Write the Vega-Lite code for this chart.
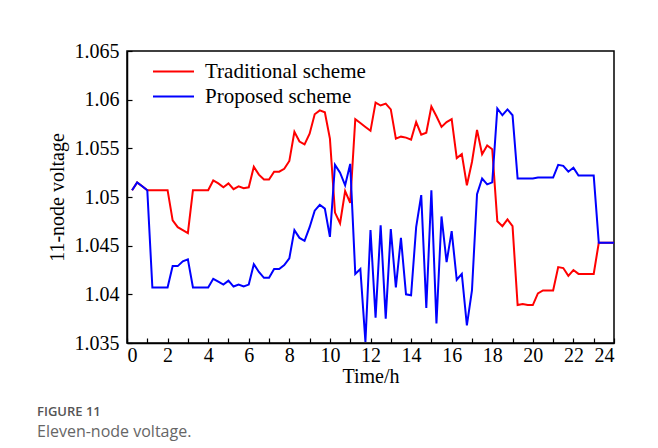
{
  "$schema": "https://vega.github.io/schema/vega-lite/v6.json",
  "autosize": {"type": "none"},
  "width": 487,
  "height": 292,
  "padding": {"left": 127, "top": 51, "right": 44, "bottom": 105},
  "background": "white",
  "title": {
    "text": "FIGURE 11",
    "subtitle": "Eleven-node voltage.",
    "orient": "bottom",
    "anchor": "start",
    "frame": "group",
    "dx": -90,
    "offset": 20,
    "font": "Open Sans",
    "fontSize": 13,
    "fontWeight": 600,
    "color": "#555555",
    "subtitleFont": "Open Sans",
    "subtitleFontSize": 16,
    "subtitleFontWeight": 400,
    "subtitleColor": "#666666",
    "subtitlePadding": 5
  },
  "data": {
    "values": [
      {"t": 0.25, "Traditional scheme": 1.0507, "Proposed scheme": 1.0507},
      {"t": 0.5, "Traditional scheme": 1.0515, "Proposed scheme": 1.0515},
      {"t": 0.75, "Traditional scheme": 1.0511, "Proposed scheme": 1.0511},
      {"t": 1.0, "Traditional scheme": 1.0507, "Proposed scheme": 1.0507},
      {"t": 1.25, "Traditional scheme": 1.0507, "Proposed scheme": 1.0407},
      {"t": 1.5, "Traditional scheme": 1.0507, "Proposed scheme": 1.0407},
      {"t": 1.75, "Traditional scheme": 1.0507, "Proposed scheme": 1.0407},
      {"t": 2.0, "Traditional scheme": 1.0507, "Proposed scheme": 1.0407},
      {"t": 2.25, "Traditional scheme": 1.0476, "Proposed scheme": 1.0429},
      {"t": 2.5, "Traditional scheme": 1.0469, "Proposed scheme": 1.0429},
      {"t": 2.75, "Traditional scheme": 1.0466, "Proposed scheme": 1.0434},
      {"t": 3.0, "Traditional scheme": 1.0463, "Proposed scheme": 1.0436},
      {"t": 3.25, "Traditional scheme": 1.0507, "Proposed scheme": 1.0407},
      {"t": 3.5, "Traditional scheme": 1.0507, "Proposed scheme": 1.0407},
      {"t": 3.75, "Traditional scheme": 1.0507, "Proposed scheme": 1.0407},
      {"t": 4.0, "Traditional scheme": 1.0507, "Proposed scheme": 1.0407},
      {"t": 4.25, "Traditional scheme": 1.0517, "Proposed scheme": 1.0416},
      {"t": 4.5, "Traditional scheme": 1.0514, "Proposed scheme": 1.0413},
      {"t": 4.75, "Traditional scheme": 1.051, "Proposed scheme": 1.041},
      {"t": 5.0, "Traditional scheme": 1.0514, "Proposed scheme": 1.0414},
      {"t": 5.25, "Traditional scheme": 1.0508, "Proposed scheme": 1.0408},
      {"t": 5.5, "Traditional scheme": 1.0511, "Proposed scheme": 1.041},
      {"t": 5.75, "Traditional scheme": 1.0509, "Proposed scheme": 1.0408},
      {"t": 6.0, "Traditional scheme": 1.051, "Proposed scheme": 1.041},
      {"t": 6.25, "Traditional scheme": 1.0531, "Proposed scheme": 1.0431},
      {"t": 6.5, "Traditional scheme": 1.0523, "Proposed scheme": 1.0423},
      {"t": 6.75, "Traditional scheme": 1.0518, "Proposed scheme": 1.0417},
      {"t": 7.0, "Traditional scheme": 1.0518, "Proposed scheme": 1.0417},
      {"t": 7.25, "Traditional scheme": 1.0526, "Proposed scheme": 1.0426},
      {"t": 7.5, "Traditional scheme": 1.0526, "Proposed scheme": 1.0426},
      {"t": 7.75, "Traditional scheme": 1.0529, "Proposed scheme": 1.043},
      {"t": 8.0, "Traditional scheme": 1.0537, "Proposed scheme": 1.0437},
      {"t": 8.25, "Traditional scheme": 1.0567, "Proposed scheme": 1.0466},
      {"t": 8.5, "Traditional scheme": 1.0557, "Proposed scheme": 1.0458},
      {"t": 8.75, "Traditional scheme": 1.0554, "Proposed scheme": 1.0455},
      {"t": 9.0, "Traditional scheme": 1.0565, "Proposed scheme": 1.0469},
      {"t": 9.25, "Traditional scheme": 1.0585, "Proposed scheme": 1.0486},
      {"t": 9.5, "Traditional scheme": 1.0589, "Proposed scheme": 1.0492},
      {"t": 9.75, "Traditional scheme": 1.0587, "Proposed scheme": 1.0488},
      {"t": 10.0, "Traditional scheme": 1.056, "Proposed scheme": 1.0459},
      {"t": 10.25, "Traditional scheme": 1.0484, "Proposed scheme": 1.0533},
      {"t": 10.5, "Traditional scheme": 1.0473, "Proposed scheme": 1.0525},
      {"t": 10.75, "Traditional scheme": 1.0506, "Proposed scheme": 1.0512},
      {"t": 11.0, "Traditional scheme": 1.0494, "Proposed scheme": 1.0534},
      {"t": 11.25, "Traditional scheme": 1.058, "Proposed scheme": 1.0421},
      {"t": 11.5, "Traditional scheme": 1.0576, "Proposed scheme": 1.0426},
      {"t": 11.75, "Traditional scheme": 1.0572, "Proposed scheme": 1.0351},
      {"t": 12.0, "Traditional scheme": 1.0568, "Proposed scheme": 1.0466},
      {"t": 12.25, "Traditional scheme": 1.0597, "Proposed scheme": 1.0376},
      {"t": 12.5, "Traditional scheme": 1.0594, "Proposed scheme": 1.0471},
      {"t": 12.75, "Traditional scheme": 1.0596, "Proposed scheme": 1.0375},
      {"t": 13.0, "Traditional scheme": 1.059, "Proposed scheme": 1.0467},
      {"t": 13.25, "Traditional scheme": 1.056, "Proposed scheme": 1.0407},
      {"t": 13.5, "Traditional scheme": 1.0562, "Proposed scheme": 1.0458},
      {"t": 13.75, "Traditional scheme": 1.0561, "Proposed scheme": 1.04},
      {"t": 14.0, "Traditional scheme": 1.0559, "Proposed scheme": 1.0399},
      {"t": 14.25, "Traditional scheme": 1.0577, "Proposed scheme": 1.0469},
      {"t": 14.5, "Traditional scheme": 1.0564, "Proposed scheme": 1.0502},
      {"t": 14.75, "Traditional scheme": 1.0566, "Proposed scheme": 1.0386},
      {"t": 15.0, "Traditional scheme": 1.0593, "Proposed scheme": 1.0507},
      {"t": 15.25, "Traditional scheme": 1.0583, "Proposed scheme": 1.037},
      {"t": 15.5, "Traditional scheme": 1.0572, "Proposed scheme": 1.048},
      {"t": 15.75, "Traditional scheme": 1.0577, "Proposed scheme": 1.0433},
      {"t": 16.0, "Traditional scheme": 1.058, "Proposed scheme": 1.0465},
      {"t": 16.25, "Traditional scheme": 1.054, "Proposed scheme": 1.0415},
      {"t": 16.5, "Traditional scheme": 1.0544, "Proposed scheme": 1.0421},
      {"t": 16.75, "Traditional scheme": 1.0512, "Proposed scheme": 1.0368},
      {"t": 17.0, "Traditional scheme": 1.0536, "Proposed scheme": 1.0404},
      {"t": 17.25, "Traditional scheme": 1.0569, "Proposed scheme": 1.0503},
      {"t": 17.5, "Traditional scheme": 1.0544, "Proposed scheme": 1.0519},
      {"t": 17.75, "Traditional scheme": 1.0553, "Proposed scheme": 1.0513},
      {"t": 18.0, "Traditional scheme": 1.0549, "Proposed scheme": 1.0515},
      {"t": 18.25, "Traditional scheme": 1.0475, "Proposed scheme": 1.0591},
      {"t": 18.5, "Traditional scheme": 1.047, "Proposed scheme": 1.0584},
      {"t": 18.75, "Traditional scheme": 1.0477, "Proposed scheme": 1.059},
      {"t": 19.0, "Traditional scheme": 1.047, "Proposed scheme": 1.0584},
      {"t": 19.25, "Traditional scheme": 1.0389, "Proposed scheme": 1.0519},
      {"t": 19.5, "Traditional scheme": 1.039, "Proposed scheme": 1.0519},
      {"t": 19.75, "Traditional scheme": 1.0389, "Proposed scheme": 1.0519},
      {"t": 20.0, "Traditional scheme": 1.0389, "Proposed scheme": 1.0519},
      {"t": 20.25, "Traditional scheme": 1.0401, "Proposed scheme": 1.052},
      {"t": 20.5, "Traditional scheme": 1.0404, "Proposed scheme": 1.052},
      {"t": 20.75, "Traditional scheme": 1.0404, "Proposed scheme": 1.052},
      {"t": 21.0, "Traditional scheme": 1.0404, "Proposed scheme": 1.052},
      {"t": 21.25, "Traditional scheme": 1.0428, "Proposed scheme": 1.0533},
      {"t": 21.5, "Traditional scheme": 1.0427, "Proposed scheme": 1.0532},
      {"t": 21.75, "Traditional scheme": 1.0419, "Proposed scheme": 1.0526},
      {"t": 22.0, "Traditional scheme": 1.0425, "Proposed scheme": 1.053},
      {"t": 22.25, "Traditional scheme": 1.0421, "Proposed scheme": 1.0522},
      {"t": 22.5, "Traditional scheme": 1.0421, "Proposed scheme": 1.0522},
      {"t": 22.75, "Traditional scheme": 1.0421, "Proposed scheme": 1.0522},
      {"t": 23.0, "Traditional scheme": 1.0421, "Proposed scheme": 1.0522},
      {"t": 23.25, "Traditional scheme": 1.0453, "Proposed scheme": 1.0453},
      {"t": 23.5, "Traditional scheme": 1.0453, "Proposed scheme": 1.0453},
      {"t": 23.75, "Traditional scheme": 1.0453, "Proposed scheme": 1.0453},
      {"t": 24.0, "Traditional scheme": 1.0453, "Proposed scheme": 1.0453}
    ]
  },
  "transform": [
    {"fold": ["Traditional scheme", "Proposed scheme"], "as": ["scheme", "voltage"]}
  ],
  "encoding": {
    "x": {
      "field": "t",
      "type": "quantitative",
      "scale": {"domain": [0, 24], "nice": false},
      "axis": {
        "title": "Time/h",
        "values": [0, 1, 2, 3, 4, 5, 6, 7, 8, 9, 10, 11, 12, 13, 14, 15, 16, 17, 18, 19, 20, 21, 22, 23, 24],
        "labelExpr": "datum.value % 2 == 0 ? datum.label : ''",
        "labelPadding": 7,
        "titlePadding": 1
      }
    },
    "y": {
      "field": "voltage",
      "type": "quantitative",
      "scale": {"domain": [1.035, 1.065], "nice": false, "zero": false},
      "axis": {
        "title": "11-node voltage",
        "values": [1.035, 1.04, 1.045, 1.05, 1.055, 1.06, 1.065],
        "format": ".3~f",
        "labelPadding": 13,
        "titlePadding": 7
      }
    },
    "color": {
      "field": "scheme",
      "type": "nominal",
      "scale": {"domain": ["Traditional scheme", "Proposed scheme"], "range": ["#ff0000", "#0000ff"]},
      "legend": {
        "title": null,
        "orient": "none",
        "legendX": 25,
        "legendY": 8,
        "symbolType": "stroke",
        "symbolSize": 1681,
        "symbolStrokeWidth": 2,
        "clipHeight": 25,
        "rowPadding": 0,
        "labelOffset": 10,
        "labelLimit": 300,
        "labelFont": "Liberation Serif",
        "labelFontSize": 21,
        "labelColor": "#000000",
        "padding": 0
      }
    }
  },
  "layer": [
    {
      "transform": [{"filter": "datum.scheme == 'Traditional scheme'"}],
      "mark": {"type": "line", "strokeWidth": 2}
    },
    {
      "transform": [{"filter": "datum.scheme == 'Proposed scheme'"}],
      "mark": {"type": "line", "strokeWidth": 2}
    }
  ],
  "config": {
    "view": {"stroke": "#000000", "strokeWidth": 1.5},
    "axis": {
      "grid": false,
      "domainColor": "#000000",
      "domainWidth": 1.5,
      "tickColor": "#000000",
      "tickWidth": 1.2,
      "tickSize": -5,
      "labelFont": "Liberation Serif",
      "labelFontSize": 20,
      "labelColor": "#000000",
      "titleFont": "Liberation Serif",
      "titleFontSize": 20,
      "titleFontWeight": "normal",
      "titleColor": "#000000"
    }
  }
}
